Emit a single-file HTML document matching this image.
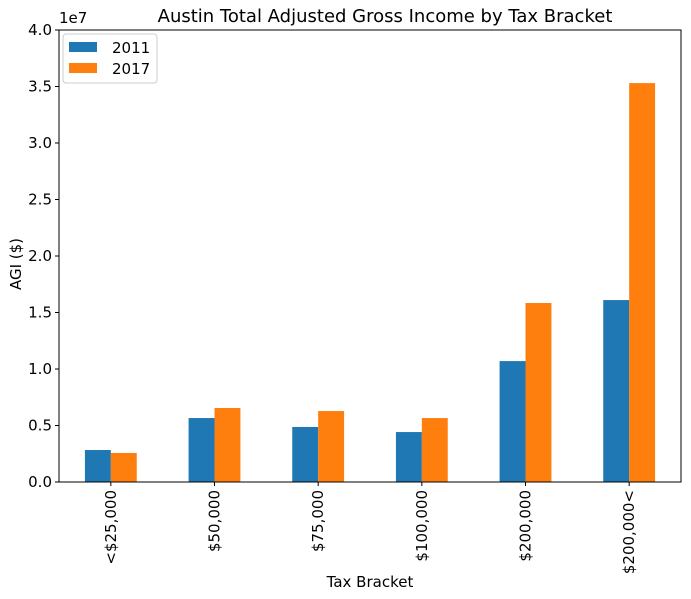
<!DOCTYPE html>
<html><head><meta charset="utf-8">
<style>
html,body{margin:0;padding:0;background:#fff;}
svg{display:block;font-family:"DejaVu Sans","Liberation Sans",sans-serif;}
</style></head>
<body>
<svg id="chart" width="691" height="599"></svg>
<script>
const categories = ["<$25,000","$50,000","$75,000","$100,000","$200,000","$200,000<"];
const series2011 = [0.283, 0.566, 0.487, 0.442, 1.07, 1.61];
const series2017 = [0.257, 0.655, 0.628, 0.566, 1.584, 3.53];
const yTicks = [0,0.5,1.0,1.5,2.0,2.5,3.0,3.5,4.0];
const seriesNames = ["2011","2017"];

const NS="http://www.w3.org/2000/svg";
const svg=document.getElementById('chart');
const L=59,R=681,T=30,B=482;
const yMax=4.0;
const FS=15;
function y(v){return B-(v/yMax)*(B-T);}
const groupW=(R-L)/categories.length;
function xc(i){return L+groupW*(i+0.5);}
const barW=groupW*0.25;
function mk(tag,attrs,text){const e=document.createElementNS(NS,tag);for(const k in attrs)e.setAttribute(k,attrs[k]);if(text!==undefined)e.textContent=text;svg.appendChild(e);return e;}

const colors=["#1f77b4","#ff7f0e"];
[series2011,series2017].forEach((s,si)=>{
  s.forEach((v,i)=>{
    const x=xc(i)+(si===0?-barW:0);
    const r=mk('rect',{x:x,y:y(v),width:barW,height:B-y(v),fill:colors[si]});
    
    
  });
});

const frame=mk('rect',{x:L,y:T,width:R-L,height:B-T,fill:'none',stroke:'#000','stroke-width':1});



yTicks.forEach(t=>{
  mk('line',{x1:L-4,x2:L,y1:y(t),y2:y(t),stroke:'#000'});
  const tx=mk('text',{x:L-7,y:y(t)+5,'text-anchor':'end','font-size':FS},t.toFixed(1));
  
  
});
categories.forEach((c,i)=>{
  mk('line',{x1:xc(i),x2:xc(i),y1:B,y2:B+4,stroke:'#000'});
  const tx=mk('text',{x:0,y:0,'text-anchor':'end','font-size':FS,transform:`translate(${xc(i)+5},${B+8}) rotate(-90)`},c);
  
  
});

const ex=mk('text',{x:L,y:T-7,'font-size':FS},'1e7');


const title=mk('text',{x:(L+R)/2+15,y:T-8,'text-anchor':'middle','font-size':18},'Austin Total Adjusted Gross Income by Tax Bracket');


const xt=mk('text',{x:(L+R)/2,y:587,'text-anchor':'middle','font-size':FS},'Tax Bracket');


const yt=mk('text',{x:0,y:0,'text-anchor':'middle','font-size':FS,transform:`translate(21,${(T+B)/2+8}) rotate(-90)`},'AGI ($)');



const lg=mk('rect',{x:63,y:34,width:94,height:49,fill:'#fff',stroke:'#ccc',rx:3});


seriesNames.forEach((n,i)=>{
  mk('rect',{x:69,y:42+i*21,width:28,height:10,fill:colors[i]});
  const tx=mk('text',{x:112,y:53+i*21,'font-size':FS},n);
  
  
});
</script>
</body></html>
